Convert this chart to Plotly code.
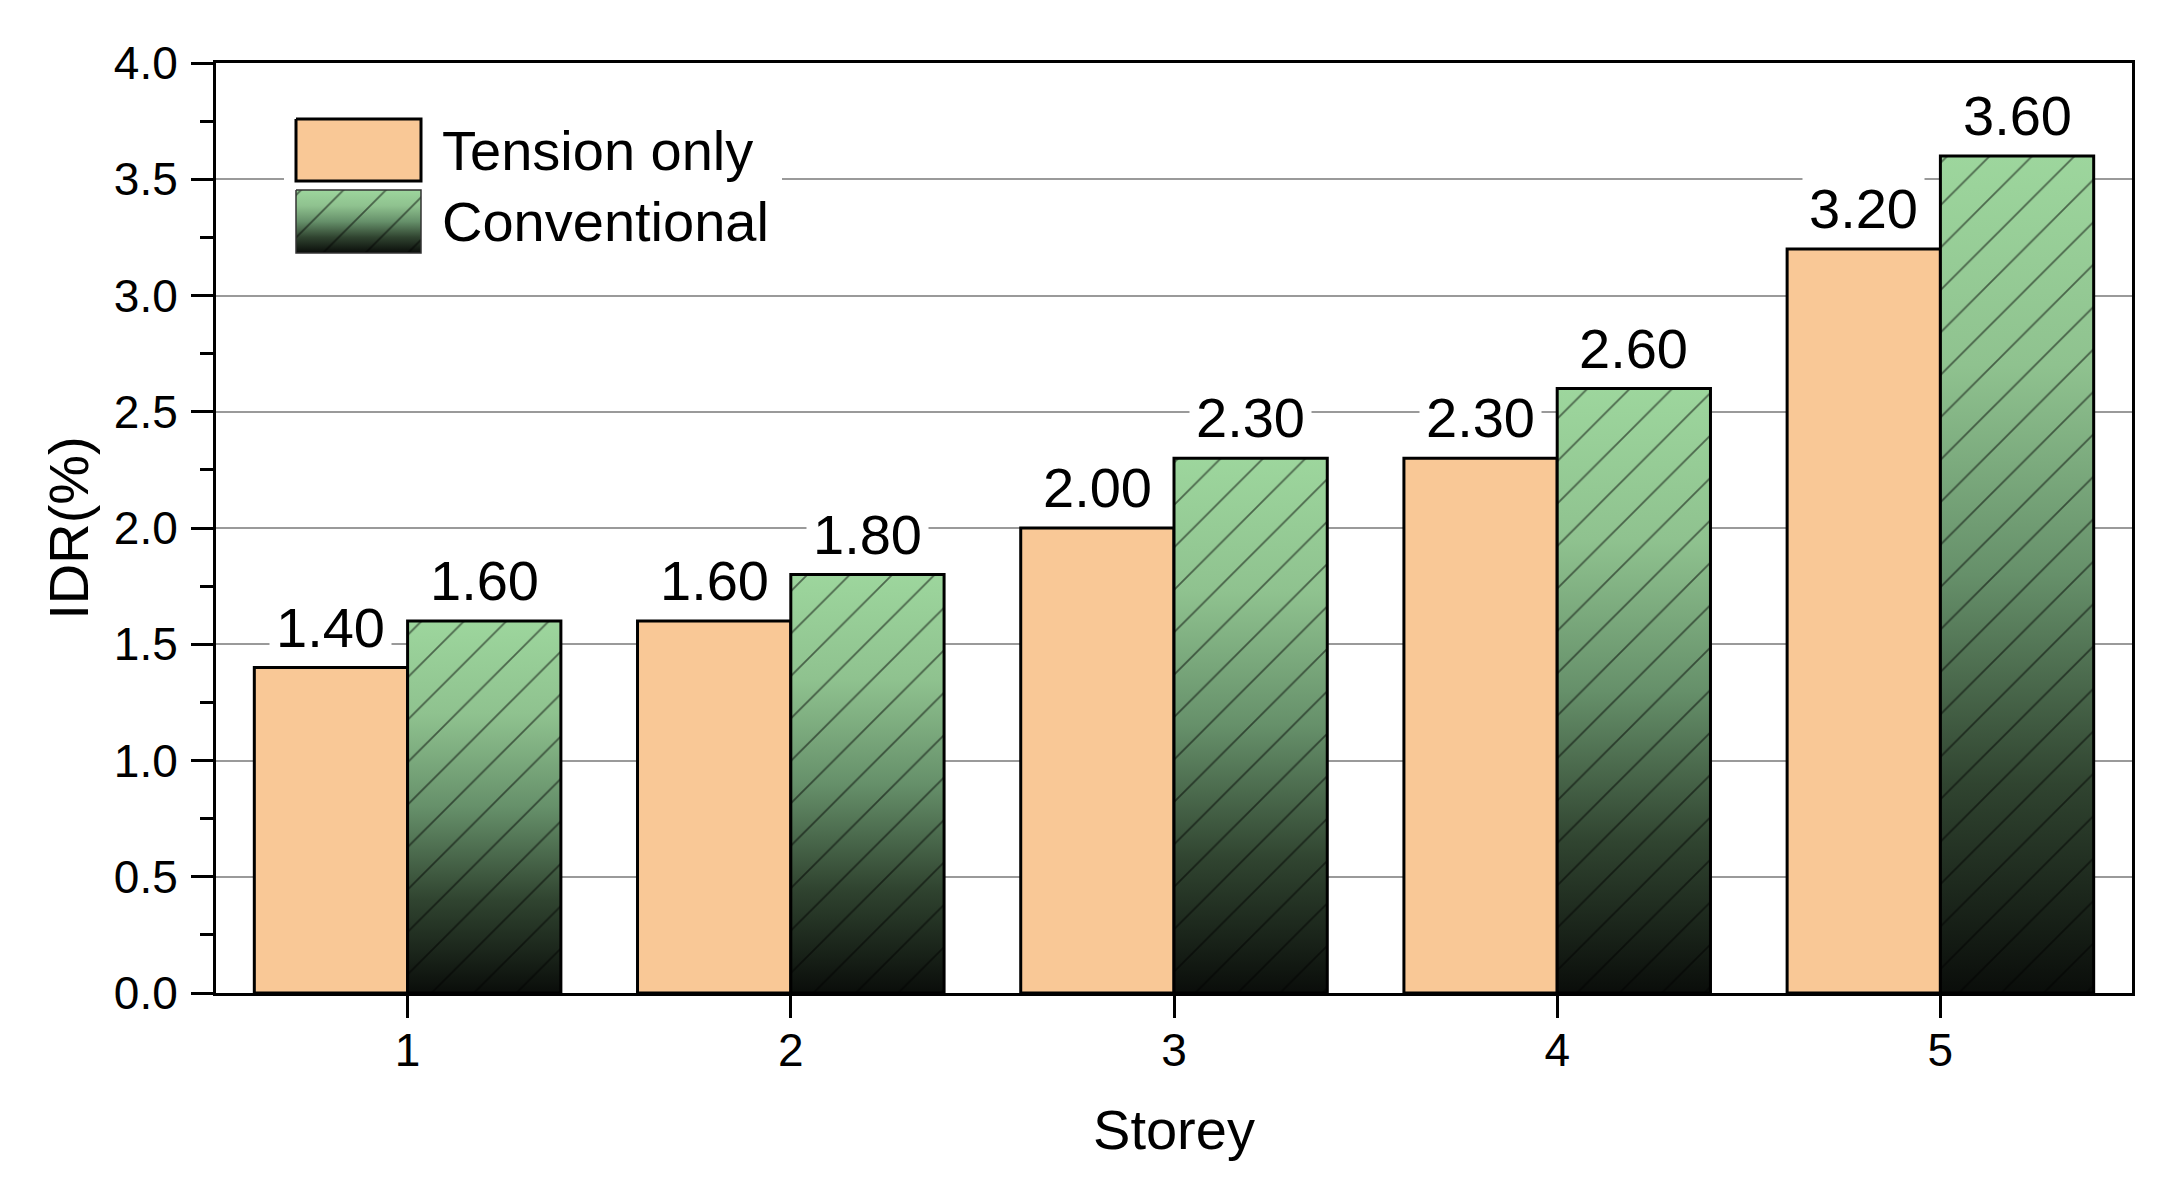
import plotly.graph_objects as go

# ---------------- data ----------------
storeys = [1, 2, 3, 4, 5]
tick_labels = ["1", "2", "3", "4", "5"]
tension_only = [1.40, 1.60, 2.00, 2.30, 3.20]
conventional = [1.60, 1.80, 2.30, 2.60, 3.60]
series_names = ["Tension only", "Conventional"]
y_title = "IDR(%)"
x_title = "Storey"

# ---------------- style ----------------
OFF = 8                      # page body margin of the html page
W, H = 2172 - OFF, 1187 - OFF
L, R, T, B = 216 - OFF, 40, 63 - OFF, 194
BAR_W = 0.4
ORANGE = "#F9C896"
GREEN_SCALE = [[0, "#0a0d0a"], [0.25, "#304430"], [0.5, "#66906a"],
               [0.75, "#8fc28f"], [1, "#9dd69d"]]
FONT = "Liberation Sans, Arial, sans-serif"
PATTERN = dict(shape="/", fgcolor="black", size=30, solidity=0.06)

fig = go.Figure()

# Tension only bars (main subplot)
fig.add_trace(go.Bar(
    x=storeys, y=tension_only, width=BAR_W, offset=-BAR_W,
    marker=dict(color=ORANGE, line=dict(color="black", width=3)),
    name=series_names[0], showlegend=False, hoverinfo="skip"))

# gradient fill behind each Conventional bar
for k, v in zip(storeys, conventional):
    fig.add_trace(go.Scatter(
        x=[k, k + BAR_W, k + BAR_W, k, k], y=[0, 0, v, v, 0],
        mode="none", fill="toself",
        fillgradient=dict(type="vertical", colorscale=GREEN_SCALE),
        showlegend=False, hoverinfo="skip"))

# Conventional bars: hatch + outline, on overlay axes so they sit above the gradient
fig.add_trace(go.Bar(
    x=storeys, y=conventional, width=BAR_W, offset=0,
    xaxis="x2", yaxis="y2",
    marker=dict(color="rgba(0,0,0,0)", line=dict(color="black", width=3),
                pattern=PATTERN),
    name=series_names[1], showlegend=False, hoverinfo="skip"))

# value labels
annotations = []
for vals, off in ((tension_only, -BAR_W / 2), (conventional, BAR_W / 2)):
    for k, v in zip(storeys, vals):
        annotations.append(dict(
            x=k + off, y=v, xref="x", yref="y", text=f"{v:.2f}",
            showarrow=False, yanchor="bottom", xanchor="center",
            bgcolor="white", borderpad=6, yshift=2,
            font=dict(family=FONT, size=56, color="black")))

# ---------------- manual legend (pixel-space overlay axes) ----------------
def py(p):
    return (H + OFF) - p

def rect(x0, x1, y0, y1):
    return [x0, x1, x1, x0, x0], [py(y0), py(y0), py(y1), py(y1), py(y0)]

lx, ly = rect(284, 782, 92, 272)
fig.add_trace(go.Scatter(x=lx, y=ly, xaxis="x3", yaxis="y3", mode="none",
                         fill="toself", fillcolor="white",
                         showlegend=False, hoverinfo="skip"))
ox, oy = rect(296, 421, 119, 181)
fig.add_trace(go.Scatter(x=ox, y=oy, xaxis="x3", yaxis="y3", mode="lines",
                         line=dict(color="black", width=3), fill="toself",
                         fillcolor=ORANGE, showlegend=False, hoverinfo="skip"))
gx, gy = rect(296, 421, 190, 253)
fig.add_trace(go.Scatter(x=gx, y=gy, xaxis="x3", yaxis="y3", mode="none",
                         fill="toself",
                         fillgradient=dict(type="vertical", colorscale=GREEN_SCALE),
                         showlegend=False, hoverinfo="skip"))
fig.add_trace(go.Scatter(x=gx, y=gy, xaxis="x3", yaxis="y3", mode="lines",
                         line=dict(color="#333333", width=1.5), fill="toself",
                         fillcolor="rgba(0,0,0,0)", fillpattern=PATTERN,
                         showlegend=False, hoverinfo="skip"))

for name, yc in zip(series_names, (150, 221)):
    annotations.append(dict(
        x=440, y=py(yc), xref="x3", yref="y3", text=name, showarrow=False,
        xanchor="left", yanchor="middle",
        font=dict(family=FONT, size=56, color="black")))

axis_common = dict(showline=True, linewidth=3, linecolor="black", mirror=True,
                   ticks="outside", tickwidth=3, tickcolor="black", ticklen=22,
                   zeroline=False)

fig.update_layout(
    width=W, height=H,
    margin=dict(l=L, r=R, t=T, b=B, pad=0, autoexpand=False),
    paper_bgcolor="white", plot_bgcolor="white",
    font=dict(family=FONT, color="black"),
    showlegend=False,
    xaxis=dict(range=[0.5, 5.5], tickvals=storeys, ticktext=tick_labels,
               showgrid=False, tickfont=dict(size=46), ticklabelstandoff=-7,
               title=dict(text=x_title, font=dict(size=56), standoff=35),
               **axis_common),
    yaxis=dict(range=[0, 4], dtick=0.5, tick0=0, tickformat=".1f",
               showgrid=True, gridcolor="#9a9a9a", gridwidth=1.5,
               tickfont=dict(size=46), ticklabelstandoff=4,
               minor=dict(dtick=0.25, ticks="outside", ticklen=13, tickwidth=3,
                          tickcolor="black", showgrid=False),
               title=dict(text=y_title, font=dict(size=56), standoff=8),
               **axis_common),
    xaxis2=dict(overlaying="x", range=[0.5, 5.5], visible=False),
    yaxis2=dict(overlaying="y", range=[0, 4], visible=False),
    xaxis3=dict(overlaying="x", range=[L + OFF, W - R + OFF], visible=False),
    yaxis3=dict(overlaying="y", range=[B, H - T], visible=False),
    annotations=annotations,
)

fig.write_html("out.html")
